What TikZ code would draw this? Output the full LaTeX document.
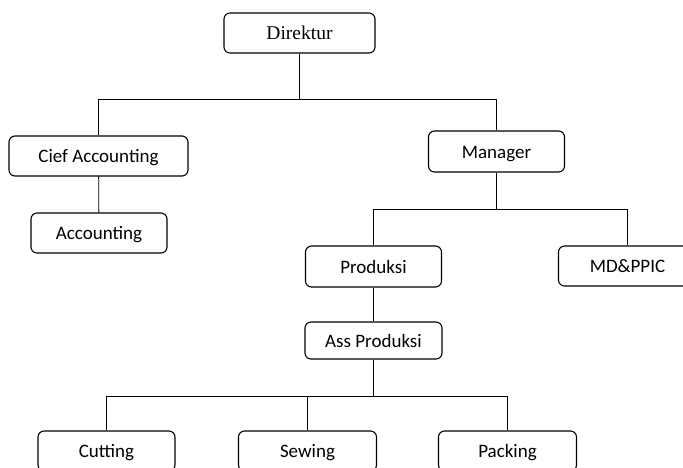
\documentclass[tikz,border=0pt]{standalone}
\usepackage{fontspec}
\setmainfont{Carlito}
\newfontfamily\tnr{Liberation Serif}
\begin{document}
\begin{tikzpicture}[x=1pt,y=-1pt,
  box/.style={draw,line width=1.1pt,rounded corners=6pt,minimum width=137pt,minimum height=40pt,inner sep=0pt,text height=13.5pt,text depth=0pt,font=\fontsize{19}{22}\selectfont},
  conn/.style={draw,line width=0.8pt}]
\useasboundingbox (0,0) rectangle (683,467);
\clip (0,0) rectangle (683,467);
\node[box,minimum width=151pt,text height=13pt,font=\tnr\fontsize{19.5}{22}\selectfont] (dir) at (299.5,33) {Direktur};
\node[box,minimum width=179pt] (cief) at (98.5,156) {Cief Accounting};
\node[box,minimum width=136pt] (acc) at (99,233) {Accounting};
\node[box,minimum width=136pt,minimum height=41pt] (man) at (496.5,151.5) {Manager};
\node[box,minimum width=136pt,minimum height=41pt] (prod) at (373.5,266.5) {Produksi};
\node[box,minimum width=138pt] (md) at (627.5,266) {MD\&PPIC};
\node[box,minimum width=137pt,minimum height=37pt] (ass) at (373.5,340.5) {Ass Produksi};
\node[box] (cut) at (106.5,451) {Cutting};
\node[box,minimum width=138pt] (sew) at (307.5,451) {Sewing};
\node[box,minimum width=138pt] (pack) at (507.5,451) {Packing};
\coordinate (j1) at (299.5,99);
\coordinate (j2) at (496.5,209);
\coordinate (j3) at (373.5,396);
\draw[conn] (dir) -- (j1);
\draw[conn] (cief.north) |- (j1);
\draw[conn] (man.north) |- (j1);
\draw[conn] (cief) -- (acc);
\draw[conn] (man) -- (j2);
\draw[conn] (prod.north) |- (j2);
\draw[conn] (md.north) |- (j2);
\draw[conn] (prod) -- (ass);
\draw[conn] (ass) -- (j3);
\draw[conn] (cut.north) |- (j3);
\draw[conn] (sew.north) |- (j3);
\draw[conn] (pack.north) |- (j3);
\end{tikzpicture}
\end{document}
